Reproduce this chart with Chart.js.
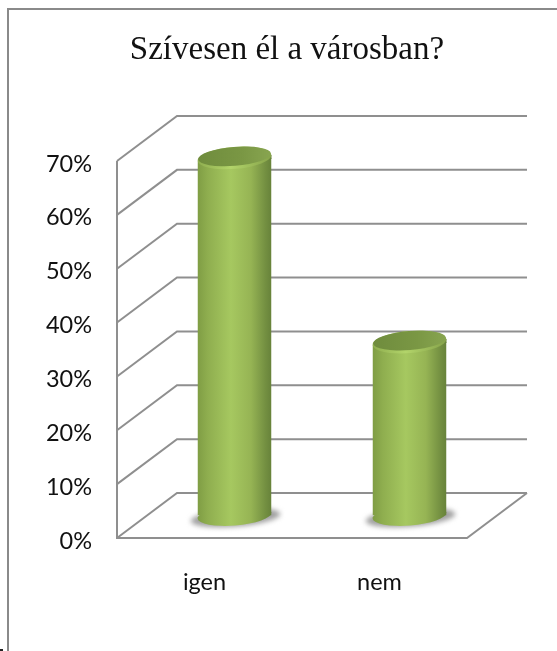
<!DOCTYPE html>
<html>
<head>
<meta charset="utf-8">
<title>Szívesen él a városban?</title>
<script src="https://cdn.jsdelivr.net/npm/chart.js@4"></script>
<style>
html, body { margin: 0; padding: 0; background: #fff; overflow: hidden; }
canvas { display: block; }
</style>
</head>
<body>
<canvas id="chart" width="557" height="651"></canvas>
<script>
const chartTitle = 'Szívesen él a városban?';
const categories = ['igen', 'nem'];
const shares = [66.4, 32.2];

// how far the back wall sits from the front plane
const DEPTH_X = 60;
const DEPTH_Y = -45;
const LINE = '#8f8f8f';

function tiltedEllipse(ctx, x, y, rx, ry) {
    ctx.beginPath();
    ctx.ellipse(x, y, rx, ry, -0.08, 0, Math.PI * 2);
}

function bodyGradient(ctx, x, w) {
    const g = ctx.createLinearGradient(x - w / 2, 0, x + w / 2, 0);
    g.addColorStop(0, '#7f9d44');
    g.addColorStop(0.14, '#8fae4f');
    g.addColorStop(0.45, '#a6c860');
    g.addColorStop(0.72, '#96b454');
    g.addColorStop(0.92, '#738f41');
    g.addColorStop(1, '#67823a');
    return g;
}

function bodyClip(ctx, bars) {
    // body edge follows the tilted top, not the flat end of the bar
    ctx.beginPath();
    bars.forEach(b => {
        const half = b.width / 2;
        ctx.moveTo(b.x - half, b.y + 3);
        ctx.lineTo(b.x + half, b.y - 3);
        ctx.lineTo(b.x + half, b.base);
        ctx.lineTo(b.x - half, b.base);
        ctx.closePath();
    });
    ctx.clip();
}

// page frame of the pasted picture and the title
const framePlugin = {
    id: 'frame',
    beforeDraw(chart) {
        const ctx = chart.ctx;
        ctx.save();
        ctx.fillStyle = '#fff';
        ctx.fillRect(0, 0, chart.width, chart.height);
        ctx.fillStyle = '#8a8a8a';
        ctx.fillRect(7, 8, 2, chart.height - 8);
        ctx.fillRect(7, 8, chart.width - 7, 2);
        ctx.fillStyle = '#222';
        ctx.fillRect(0, 649, 3, 2);
        ctx.fillStyle = '#111';
        ctx.font = '33px "Liberation Serif"';
        ctx.textAlign = 'center';
        ctx.textBaseline = 'alphabetic';
        ctx.fillText(chartTitle, 287, 59);
        ctx.restore();
    }
};

// walls and floor, hung on the y scale ticks
const wallsPlugin = {
    id: 'walls',
    beforeDatasetsDraw(chart) {
        const ctx = chart.ctx;
        const y = chart.scales.y;
        const { left, right, bottom, top } = chart.chartArea;
        const backRight = right + DEPTH_X;
        ctx.save();
        ctx.strokeStyle = LINE;
        ctx.lineWidth = 2;
        ctx.beginPath();
        y.ticks.forEach(t => {
            const py = y.getPixelForValue(t.value);
            ctx.moveTo(left, py);
            ctx.lineTo(left + DEPTH_X, py + DEPTH_Y);
            ctx.lineTo(backRight, py + DEPTH_Y);
        });
        ctx.moveTo(left, top);
        ctx.lineTo(left, bottom);
        ctx.lineTo(right, bottom);
        ctx.lineTo(backRight, bottom + DEPTH_Y);
        ctx.stroke();
        ctx.restore();
    }
};

// turns the flat bars into cylinders standing mid depth on the floor
const cylinderPlugin = {
    id: 'cylinder',
    beforeDatasetDraw(chart, args) {
        const ctx = chart.ctx;
        const bars = args.meta.data;
        ctx.save();
        ctx.translate(DEPTH_X / 2, DEPTH_Y / 2);
        bars.forEach(b => {
            ctx.save();
            ctx.filter = 'blur(2.5px)';
            ctx.fillStyle = '#a0a0a0';
            tiltedEllipse(ctx, b.x + 1, b.base + 2, b.width / 2 + 8, 9);
            ctx.fill();
            ctx.restore();
            ctx.fillStyle = bodyGradient(ctx, b.x, b.width);
            tiltedEllipse(ctx, b.x, b.base, b.width / 2, 10);
            ctx.fill();
            // wedge on the right that the tilted top leaves above the bar end
            const half = b.width / 2;
            ctx.beginPath();
            ctx.moveTo(b.x, b.y);
            ctx.lineTo(b.x + half, b.y - 3);
            ctx.lineTo(b.x + half, b.y + 1);
            ctx.lineTo(b.x, b.y + 1);
            ctx.fill();
        });
        ctx.save();
        bodyClip(ctx, bars);
    },
    afterDatasetDraw(chart, args) {
        const ctx = chart.ctx;
        ctx.restore();
        args.meta.data.forEach(b => {
            const half = b.width / 2;
            // soft bright rim on the front of the lid
            const rim = ctx.createLinearGradient(b.x - half, 0, b.x + half, 0);
            rim.addColorStop(0, '#8fae4f');
            rim.addColorStop(0.45, '#b2d46a');
            rim.addColorStop(1, '#86a34a');
            ctx.fillStyle = rim;
            tiltedEllipse(ctx, b.x, b.y, half, 11);
            ctx.fill();
            const g = ctx.createLinearGradient(b.x - half, 0, b.x + half, 0);
            g.addColorStop(0, '#6f8c3d');
            g.addColorStop(0.6, '#7a9744');
            g.addColorStop(1, '#88a550');
            ctx.save();
            ctx.filter = 'blur(0.6px)';
            ctx.fillStyle = g;
            tiltedEllipse(ctx, b.x, b.y - 1.5, half - 0.5, 9.5);
            ctx.fill();
            ctx.restore();
        });
        ctx.restore();
    }
};

new Chart(document.getElementById('chart'), {
    type: 'bar',
    data: {
        labels: categories,
        datasets: [{
            data: shares,
            clip: false,
            barPercentage: 74 / 175,
            categoryPercentage: 1,
            backgroundColor: ctx => {
                const area = ctx.chart.chartArea;
                if (!area || ctx.dataIndex === undefined) return '#93b152';
                const x = ctx.chart.scales.x.getPixelForValue(ctx.dataIndex);
                return bodyGradient(ctx.chart.ctx, x, 74);
            }
        }]
    },
    options: {
        responsive: false,
        animation: false,
        layout: { padding: { left: 0, right: 90, top: 161, bottom: 0 } },
        plugins: {
            legend: { display: false },
            tooltip: { enabled: false }
        },
        scales: {
            x: {
                grid: { display: false, drawTicks: false },
                border: { display: false },
                ticks: {
                    color: '#111',
                    padding: 30,
                    maxRotation: 0,
                    font: { family: 'Lato', size: 23.5 }
                },
                afterFit: scale => { scale.height = 113; }
            },
            y: {
                min: 0,
                max: 70,
                grid: { display: false, drawTicks: false },
                border: { display: false },
                ticks: {
                    stepSize: 10,
                    color: '#111',
                    padding: 25,
                    labelOffset: 3,
                    font: { family: 'Lato', size: 23.5 },
                    callback: v => v + '%'
                },
                afterFit: scale => { scale.width = 117; }
            }
        }
    },
    plugins: [framePlugin, wallsPlugin, cylinderPlugin]
});
</script>
</body>
</html>
